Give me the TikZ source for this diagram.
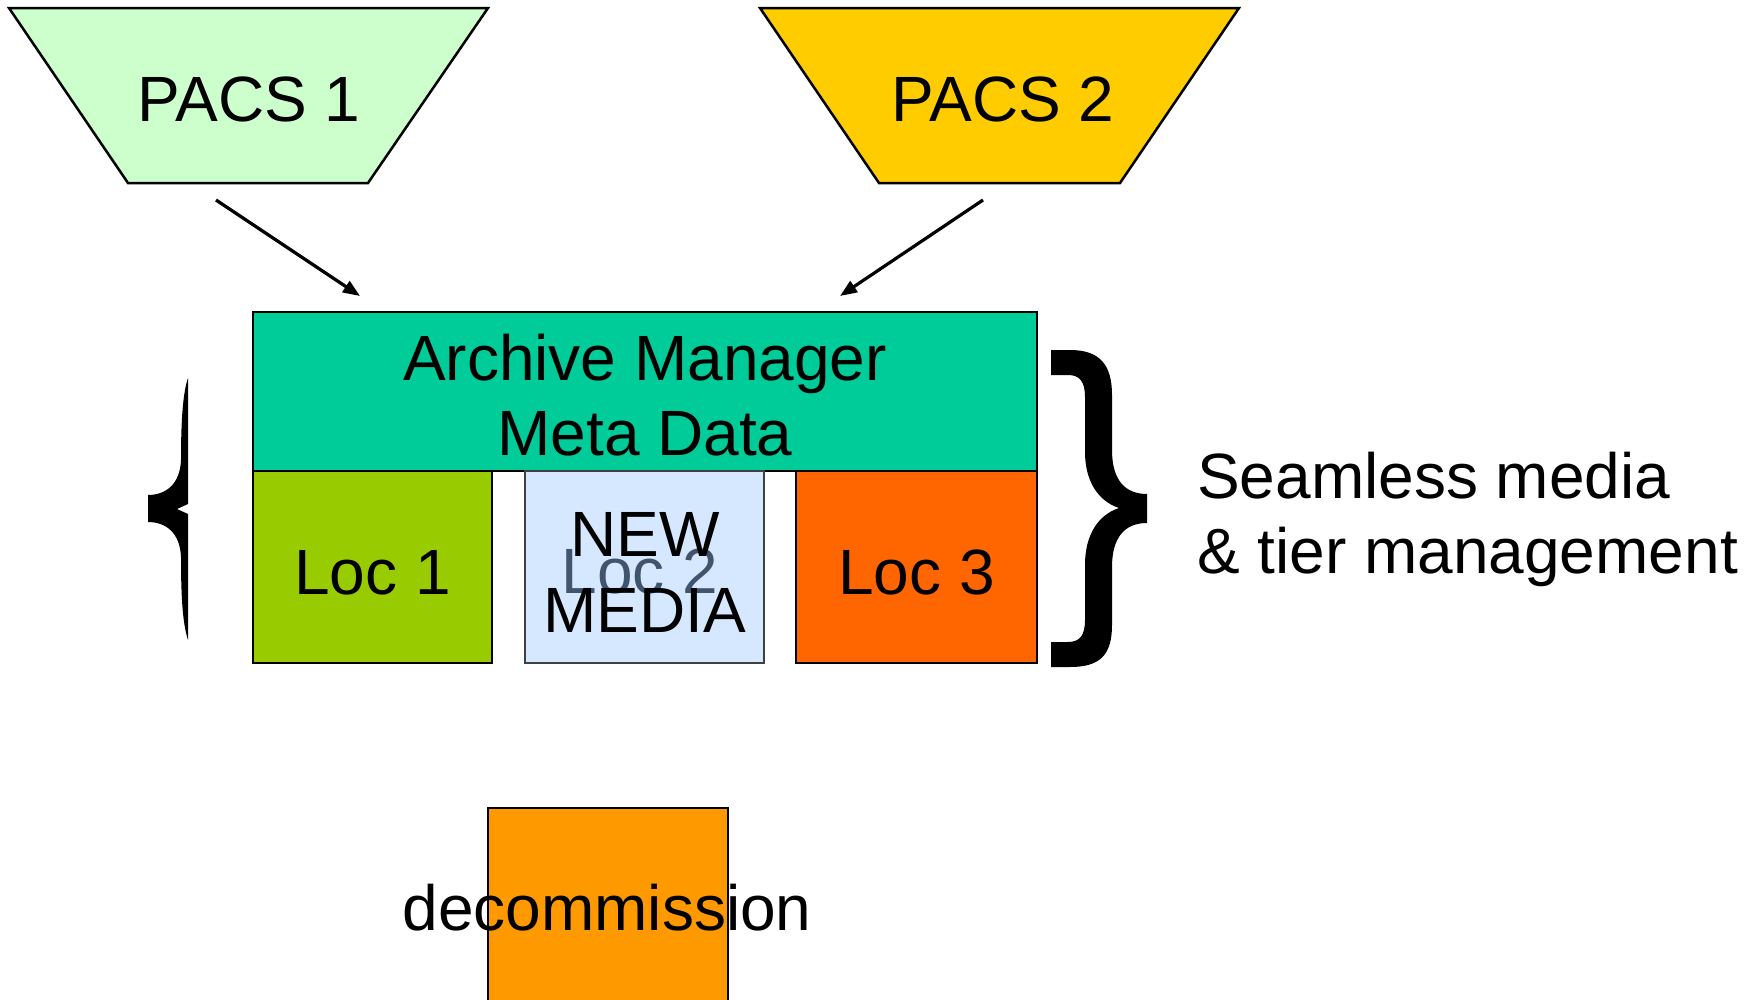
\documentclass[tikz,border=0pt]{standalone}
\usepackage{fontspec}
\setmainfont{Liberation Sans}
\usetikzlibrary{arrows.meta}
\definecolor{pacsA}{RGB}{204,255,204}
\definecolor{pacsB}{RGB}{255,204,0}
\definecolor{amgr}{RGB}{0,204,153}
\definecolor{locA}{RGB}{153,204,0}
\definecolor{locB}{RGB}{213,232,255}
\definecolor{locC}{RGB}{255,102,0}
\definecolor{decom}{RGB}{255,153,0}
\definecolor{loctwo}{RGB}{64,84,110}
\tikzset{
  boxshape/.style={draw=black, line width=2.5pt, inner sep=0pt, outer sep=0pt},
  big/.style={font=\fontsize{64}{75}\selectfont, inner sep=0pt, anchor=base},
  conn/.style={line width=3.2pt, -{Triangle[length=17pt,width=13pt]}},
  bracefill/.style={fill=black, draw=none}
}
\begin{document}
\begin{tikzpicture}[x=1pt,y=-1pt]
\useasboundingbox (0,0) rectangle (1754,999);
\fill[white] (0,0) rectangle (1754,999);
% PACS trapezia
\draw[boxshape, fill=pacsA] (9,8) -- (488,8) -- (368,183) -- (128,183) -- cycle;
\draw[boxshape, fill=pacsB] (760,8) -- (1239,8) -- (1120,183) -- (879,183) -- cycle;
\node[big] (p1) at (249,121) {PACS 1};
\node[big] (p2) at (1003,121) {PACS 2};
% boxes
\node[boxshape, fill=amgr, minimum width=784pt, minimum height=159pt] (am) at (645,391.5) {};
\node[boxshape, fill=locA, minimum width=239pt, minimum height=192pt] (l1) at (372.5,567) {};
\node[boxshape, draw=black!75, fill=locB, minimum width=239pt, minimum height=192pt] (l2) at (644.5,567) {};
\node[boxshape, fill=locC, minimum width=241pt, minimum height=192pt] (l3) at (916.5,567) {};
\node[boxshape, fill=decom, minimum width=240pt, minimum height=195pt, anchor=north] (dc) at (608,808) {};
% texts
\node[big] (t1) at (645,380) {Archive Manager};
\node[big] (t2) at (645,455) {Meta Data};
\node[big] (tl1) at (372.5,594) {Loc 1};
\node[big] (tl3) at (916.5,594) {Loc 3};
\node[big, text=loctwo] (tl2) at (640,593) {Loc 2};
\node[big] (tn1) at (645,556) {NEW};
\node[big] (tn2) at (645,632) {MEDIA};
\node[big] (tdc) at (607,930) {decommission};
\node[big, anchor=base west] (s1) at (1197,498) {Seamless media};
\node[big, anchor=base west] (s2) at (1197,573) {\& tier management};
% arrows
\coordinate (a1s) at (216,200);
\coordinate (a1e) at (360,296);
\coordinate (a2s) at (983,200);
\coordinate (a2e) at (840,296);
\draw[conn] (a1s) -- (a1e);
\draw[conn] (a2s) -- (a2e);
% left brace (thin)
\fill[bracefill] (188,378) .. controls (182,395) and (181,430) .. (181,460)
  .. controls (180,485) and (165,495) .. (148,495)
  -- (148,522)
  .. controls (165,522) and (180,532) .. (181,557)
  .. controls (181,590) and (182,622) .. (188,640)
  -- (188,514) -- (177,509) -- (188,504) -- cycle;
% right brace (thick)
\fill[bracefill] (1051,350) -- (1070,350)
  .. controls (1100,350) and (1112,365) .. (1112,395)
  -- (1112,450)
  .. controls (1112,480) and (1125,494) .. (1147,494)
  -- (1147,523)
  .. controls (1125,523) and (1112,537) .. (1112,567)
  -- (1112,625)
  .. controls (1112,655) and (1100,667) .. (1070,667)
  -- (1051,667) -- (1051,642) -- (1068,642)
  .. controls (1080,642) and (1085,635) .. (1085,620)
  -- (1085,565)
  .. controls (1085,535) and (1098,515) .. (1119,508)
  .. controls (1098,501) and (1085,481) .. (1085,452)
  -- (1085,397)
  .. controls (1085,382) and (1080,375) .. (1068,375)
  -- (1051,375) -- cycle;
\end{tikzpicture}
\end{document}
